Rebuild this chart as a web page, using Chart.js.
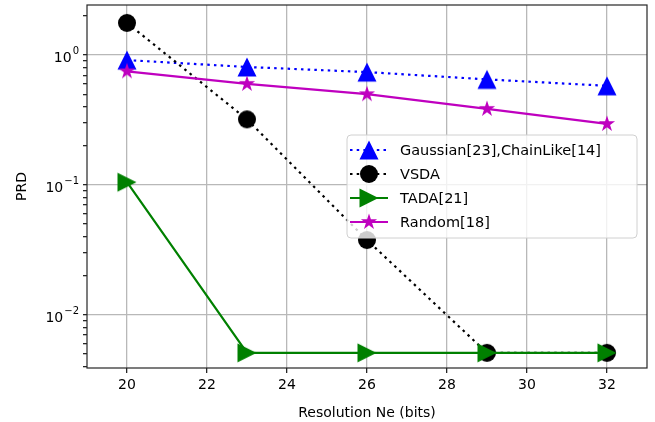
<!DOCTYPE html>
<html>
<head>
<meta charset="utf-8">
<script src="https://cdn.jsdelivr.net/npm/chart.js@4.4.1/dist/chart.umd.min.js"></script>
<style>
  html, body { margin: 0; padding: 0; background: #fff; }
</style>
</head>
<body>
<canvas id="prdCanvas" width="655" height="422"></canvas>
<script>
// data
var resolutionBits = [20, 23, 26, 29, 32];
var gaussianPRD = [0.915, 0.81, 0.74, 0.65, 0.58];
var vsdaPRD = [1.77, 0.32, 0.0377, 0.0051, 0.0051];
var tadaPRD = [0.105, 0.0051, 0.0051, 0.0051, 0.0051];
var randomPRD = [0.75, 0.60, 0.50, 0.385, 0.295];

var seriesNames = ["Gaussian[23],ChainLike[14]", "VSDA", "TADA[21]", "Random[18]"];

var xTicks = [20, 22, 24, 26, 28, 30, 32];
var yMajorTicks = [0.01, 0.1, 1];
var yMinorTicks = [0.004, 0.005, 0.006, 0.007, 0.008, 0.009,
                   0.02, 0.03, 0.04, 0.05, 0.06, 0.07, 0.08, 0.09,
                   0.2, 0.3, 0.4, 0.5, 0.6, 0.7, 0.8, 0.9, 2];
var yTickBase = "10";
var yTickExponents = ["\u22122", "\u22121", "0"];

var FONT = "'DejaVu Sans', sans-serif";

// matplotlib-like markers drawn on small canvases
function makeMarker(kind, color, size) {
    var c = document.createElement('canvas');
    var s = 24;
    c.width = s; c.height = s;
    var ctx = c.getContext('2d');
    var m = s / 2, h = size / 2;
    ctx.fillStyle = color;
    ctx.beginPath();
    if (kind === 'up') {
        ctx.moveTo(m, m - h);
        ctx.lineTo(m + h, m + h);
        ctx.lineTo(m - h, m + h);
    } else if (kind === 'right') {
        ctx.moveTo(m + h, m);
        ctx.lineTo(m - h, m + h);
        ctx.lineTo(m - h, m - h);
    } else if (kind === 'circle') {
        ctx.arc(m, m, h, 0, Math.PI * 2);
    } else if (kind === 'star') {
        var inner = h * 0.381966;
        for (var i = 0; i < 10; i++) {
            var r = (i % 2 === 0) ? h : inner;
            var a = -Math.PI / 2 + i * Math.PI / 5;
            var px = m + r * Math.cos(a), py = m + r * Math.sin(a);
            if (i === 0) ctx.moveTo(px, py); else ctx.lineTo(px, py);
        }
    }
    ctx.closePath();
    ctx.fill();
    return c;
}

var markers = [
    makeMarker('up', '#0000ff', 19),
    makeMarker('circle', '#000000', 18),
    makeMarker('right', '#008000', 19),
    makeMarker('star', '#bf00bf', 17)
];
var colors = ['#0000ff', '#000000', '#008000', '#bf00bf'];
var dashes = [[2.5, 4.2], [2.5, 4.2], [], []];
var values = [gaussianPRD, vsdaPRD, tadaPRD, randomPRD];

function toPoints(ys) {
    return resolutionBits.map(function (x, i) { return { x: x, y: ys[i] }; });
}

var datasets = seriesNames.map(function (name, i) {
    return {
        label: name,
        data: toPoints(values[i]),
        borderColor: colors[i],
        borderWidth: 2.2,
        borderDash: dashes[i],
        pointStyle: markers[i],
        pointRadius: 10,
        pointHoverRadius: 10,
        backgroundColor: colors[i],
        fill: false,
        tension: 0,
        clip: false,
        order: 4 - i
    };
});

function isMajor(v) {
    var l = Math.log10(v);
    return Math.abs(l - Math.round(l)) < 1e-9;
}

// frame, 10^n tick labels and legend drawn like matplotlib
var frameAndLegend = {
    id: 'frameAndLegend',
    afterDatasetsDraw: function (chart) {
        var ctx = chart.ctx, a = chart.chartArea;
        ctx.save();
        ctx.strokeStyle = '#262626';
        ctx.lineWidth = 1.2;
        ctx.strokeRect(a.left, a.top, a.right - a.left, a.bottom - a.top);

        // y tick labels with real superscripts
        var yScale = chart.scales.y;
        ctx.fillStyle = '#000';
        ctx.textBaseline = 'alphabetic';
        ctx.textAlign = 'left';
        var rightEdge = a.left - 8;
        for (var k = 0; k < yMajorTicks.length; k++) {
            var py = yScale.getPixelForValue(yMajorTicks[k]);
            ctx.font = '10px ' + FONT;
            var ew = ctx.measureText(yTickExponents[k]).width;
            ctx.font = '14px ' + FONT;
            var bw = ctx.measureText(yTickBase).width;
            var x0 = rightEdge - ew - bw - 1;
            ctx.fillText(yTickBase, x0, py + 7);
            ctx.font = '10px ' + FONT;
            ctx.fillText(yTickExponents[k], x0 + bw + 1, py - 1);
        }

        var bx = 347, by = 135, bw2 = 290, bh = 103, rad = 4;
        ctx.beginPath();
        ctx.moveTo(bx + rad, by);
        ctx.arcTo(bx + bw2, by, bx + bw2, by + bh, rad);
        ctx.arcTo(bx + bw2, by + bh, bx, by + bh, rad);
        ctx.arcTo(bx, by + bh, bx, by, rad);
        ctx.arcTo(bx, by, bx + bw2, by, rad);
        ctx.closePath();
        ctx.fillStyle = 'rgba(255,255,255,0.8)';
        ctx.fill();
        ctx.strokeStyle = '#d0d0d0';
        ctx.lineWidth = 1;
        ctx.stroke();

        var rowY = [150, 174, 198, 222];
        ctx.font = '14.5px ' + FONT;
        ctx.textBaseline = 'middle';
        for (var i = 0; i < seriesNames.length; i++) {
            ctx.beginPath();
            ctx.setLineDash(dashes[i]);
            ctx.strokeStyle = colors[i];
            ctx.lineWidth = 2.2;
            ctx.moveTo(350, rowY[i]);
            ctx.lineTo(388, rowY[i]);
            ctx.stroke();
            ctx.setLineDash([]);
            ctx.drawImage(markers[i], 369 - 12, rowY[i] - 12);
            ctx.fillStyle = '#000';
            ctx.fillText(seriesNames[i], 400, rowY[i] + 1);
        }
        ctx.restore();
    }
};

var canvas = document.getElementById('prdCanvas');
var prdChart = new Chart(canvas, {
    type: 'line',
    data: { datasets: datasets },
    options: {
        responsive: false,
        animation: false,
        devicePixelRatio: 1,
        layout: { autoPadding: false, padding: { left: 0, right: 8, top: 5, bottom: 0 } },
        plugins: {
            legend: { display: false },
            tooltip: { enabled: false }
        },
        scales: {
            x: {
                type: 'linear',
                min: 19,
                max: 33,
                afterBuildTicks: function (scale) {
                    scale.ticks = xTicks.map(function (v) { return { value: v }; });
                },
                afterFit: function (scale) {
                    scale.height = 54;
                    scale.paddingLeft = 0;
                    scale.paddingRight = 0;
                },
                ticks: {
                    autoSkip: false,
                    maxRotation: 0,
                    color: '#000',
                    padding: 4,
                    font: { family: FONT, size: 14 },
                    callback: function (v) { return String(v); }
                },
                grid: {
                    color: '#b8b8b8',
                    lineWidth: 1.3,
                    tickColor: '#262626',
                    tickLength: 5
                },
                border: { display: false },
                title: {
                    display: true,
                    text: 'Resolution Ne (bits)',
                    color: '#000',
                    font: { family: FONT, size: 14 },
                    padding: { top: 4, bottom: 0 }
                }
            },
            y: {
                type: 'logarithmic',
                min: 0.0039,
                max: 2.43,
                afterBuildTicks: function (scale) {
                    scale.ticks = yMajorTicks.concat(yMinorTicks)
                        .sort(function (p, q) { return p - q; })
                        .map(function (v) { return { value: v, major: isMajor(v) }; });
                },
                afterFit: function (scale) {
                    scale.width = 87;
                    scale.paddingTop = 0;
                    scale.paddingBottom = 0;
                },
                ticks: {
                    autoSkip: false,
                    color: '#000',
                    padding: 3,
                    font: { family: FONT, size: 14 },
                    callback: function () { return ''; }
                },
                grid: {
                    color: function (c) {
                        return c.tick && isMajor(c.tick.value) ? '#b8b8b8' : 'rgba(0,0,0,0)';
                    },
                    lineWidth: 1.3,
                    tickColor: '#262626',
                    tickLength: 4
                },
                border: { display: false },
                title: {
                    display: true,
                    text: 'PRD',
                    color: '#000',
                    font: { family: FONT, size: 14 },
                    padding: { top: 14, bottom: 0 }
                }
            }
        }
    },
    plugins: [frameAndLegend]
});
</script>
</body>
</html>
